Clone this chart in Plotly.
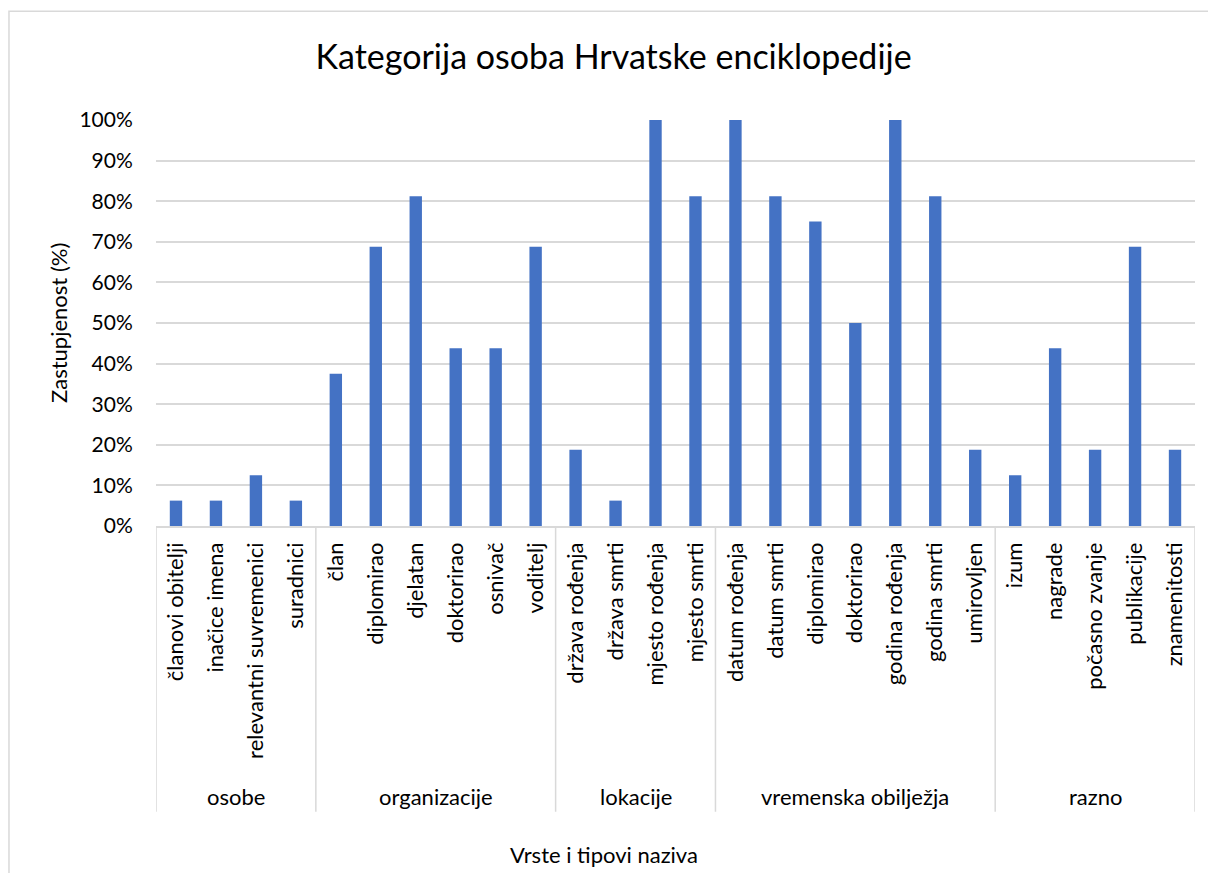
import plotly.graph_objects as go

# --- podaci ---
GRUPE = ['osobe', 'organizacije', 'lokacije', 'vremenska obilježja', 'razno']

NAZIVI_OSOBE = ['članovi obitelji', 'inačice imena', 'relevantni suvremenici', 'suradnici']
NAZIVI_ORGANIZACIJE = ['član', 'diplomirao', 'djelatan', 'doktorirao', 'osnivač', 'voditelj']
NAZIVI_LOKACIJE = ['država rođenja', 'država smrti', 'mjesto rođenja', 'mjesto smrti']
NAZIVI_VREMENSKA = ['datum rođenja', 'datum smrti', 'diplomirao', 'doktorirao',
                    'godina rođenja', 'godina smrti', 'umirovljen']
NAZIVI_RAZNO = ['izum', 'nagrade', 'počasno zvanje', 'publikacije', 'znamenitosti']

ZAST_OSOBE = [6.25, 6.25, 12.5, 6.25]
ZAST_ORGANIZACIJE = [37.5, 68.75, 81.25, 43.75, 43.75, 68.75]
ZAST_LOKACIJE = [18.75, 6.25, 100, 81.25]
ZAST_VREMENSKA = [100, 81.25, 75, 50, 100, 81.25, 18.75]
ZAST_RAZNO = [12.5, 43.75, 18.75, 68.75, 18.75]

nazivi_po_grupi = [NAZIVI_OSOBE, NAZIVI_ORGANIZACIJE, NAZIVI_LOKACIJE, NAZIVI_VREMENSKA, NAZIVI_RAZNO]
zast_po_grupi = [ZAST_OSOBE, ZAST_ORGANIZACIJE, ZAST_LOKACIJE, ZAST_VREMENSKA, ZAST_RAZNO]

nazivi = [n for g in nazivi_po_grupi for n in g]
zastupljenost = [v for g in zast_po_grupi for v in g]
x = list(range(len(nazivi)))

FONT = 'Lato'
SIVA = '#d9d9d9'

fig = go.Figure(go.Bar(x=x, y=zastupljenost, marker_color='#4472C4', marker_line_width=0))

# granice grupa i nazivi grupa
shapes = []
annotations = []
start = 0
granice = [-0.5]
for grupa, g in zip(GRUPE, nazivi_po_grupi):
    kraj = start + len(g)
    granice.append(kraj - 0.5)
    annotations.append(dict(x=(start + kraj - 1) / 2, y=-0.667, xref='x', yref='paper',
                            text=grupa, showarrow=False, yanchor='middle',
                            font=dict(family=FONT, size=22, color='black')))
    start = kraj
for b in granice:
    shapes.append(dict(type='line', xref='x', yref='paper', x0=b, x1=b, y0=0, y1=-0.704,
                       line=dict(color=SIVA, width=1.5)))

# okvir grafikona
shapes.append(dict(type='rect', xref='paper', yref='paper', x0=-0.1415, x1=1.2, y0=-1.2, y1=1.268,
                   line=dict(color=SIVA, width=1.5), layer='below'))

annotations.append(dict(x=0.431, y=-0.81, xref='paper', yref='paper', text='Vrste i tipovi naziva',
                        showarrow=False, yanchor='middle',
                        font=dict(family=FONT, size=22, color='black')))
annotations.append(dict(x=-0.0944, y=0.5, xref='paper', yref='paper', text='Zastupjenost (%)',
                        showarrow=False, textangle=-90, xanchor='center',
                        font=dict(family=FONT, size=22, color='black')))

fig.update_layout(
    width=1208, height=873,
    margin=dict(l=156, r=13, t=120, b=347),
    paper_bgcolor='white', plot_bgcolor='white',
    bargap=0.69,
    showlegend=False,
    font=dict(family=FONT, size=21, color='black'),
    title=dict(text='Kategorija osoba Hrvatske enciklopedije', x=0.508, xanchor='center',
               y=0.935, yanchor='middle', font=dict(family=FONT, size=34, color='black')),
    shapes=shapes,
    annotations=annotations,
)

fig.update_xaxes(range=[-0.5, len(nazivi) - 0.5], tickvals=x, ticktext=nazivi, tickangle=-90,
                 tickfont=dict(family=FONT, size=22, color='black'),
                 showgrid=False, showline=True, linecolor=SIVA, linewidth=1.5,
                 ticks='outside', ticklen=6, tickcolor='rgba(0,0,0,0)', zeroline=False)
fig.update_yaxes(range=[0, 100], tick0=0, dtick=10, ticksuffix='%', showgrid=True,
                 gridcolor=SIVA, gridwidth=1.5, zeroline=False, showline=False,
                 ticks='outside', ticklen=18, tickcolor='rgba(0,0,0,0)')

fig.write_html('out.html', config={'displayModeBar': False},
               post_script="document.body.style.margin='0';")
